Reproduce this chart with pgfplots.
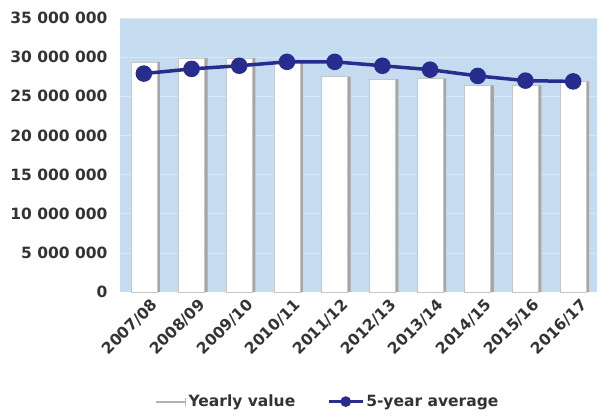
\documentclass[border=0pt]{standalone}
\usepackage{pgfplots}
\pgfplotsset{compat=1.18}
\usepackage{fontspec}
\setmainfont{DejaVu Sans}
\definecolor{bgblue}{HTML}{C5DCF0}
\definecolor{navy}{HTML}{282C8C}
\definecolor{txt}{HTML}{333333}
\begin{document}
\begin{tikzpicture}
\path (-120pt,-126pt) rectangle (495pt,292pt);
\begin{axis}[
  scale only axis,
  width=477pt, height=274pt,
  xmin=-0.5, xmax=9.5,
  ymin=0, ymax=35000000,
  ytick={0,5000000,...,35000000},
  scaled y ticks=false,
  /pgf/number format/.cd, fixed, 1000 sep={\ }, assume math mode=true,
  /pgfplots/.cd,
  xtick=data,
  xticklabels={2007/08,2008/09,2009/10,2010/11,2011/12,2012/13,2013/14,2014/15,2015/16,2016/17},
  x tick label style={rotate=45, anchor=north east, font=\bfseries\fontsize{15.5}{17}\selectfont, text=txt, xshift=4pt, yshift=-5pt},
  y tick label style={font=\bfseries\fontsize{15.5}{17}\selectfont, text=txt, xshift=-9pt},
  axis background/.style={fill=bgblue},
  axis line style={draw=none},
  major tick length=0pt,
  ymajorgrids,
  grid style={white, opacity=0.35, line width=0.5pt},
  legend style={at={(0.435,-0.40)}, anchor=center, draw=none, fill=none,
    legend columns=2, font=\bfseries\fontsize{15.5}{17}\selectfont, text=txt,
    /tikz/every even column/.append style={column sep=30pt}},
]
\addplot[ybar, bar width=26pt, bar shift=3pt, fill=gray!70, draw=none, forget plot]
  coordinates {(0,29400000) (1,29900000) (2,29900000) (3,29500000) (4,27500000)
               (5,27200000) (6,27300000) (7,26400000) (8,26400000) (9,26900000)};
\addplot[ybar, bar width=26pt, fill=white, draw=gray!45, line width=0.6pt,
  legend image code/.code={\draw[gray!60, line width=2pt] (0pt,0pt) -- (30pt,0pt);
    \draw[gray!60, line width=1pt] (30pt,-4pt) -- (30pt,4pt);}]
  coordinates {(0,29400000) (1,29900000) (2,29900000) (3,29500000) (4,27500000)
               (5,27200000) (6,27300000) (7,26400000) (8,26400000) (9,26900000)};
\addlegendentry{Yearly value}
\addplot[navy, line width=3.5pt, mark=*, mark size=6.5pt, mark options={fill=navy, draw=navy},
  legend image code/.code={\draw[navy, line width=3pt] (0pt,0pt) -- (34pt,0pt);
    \fill[navy] (17pt,0pt) circle (3.5pt);}]
  coordinates {(0,27900000) (1,28500000) (2,28900000) (3,29400000) (4,29400000)
               (5,28900000) (6,28400000) (7,27600000) (8,27000000) (9,26900000)};
\addlegendentry{5-year average}
\end{axis}
\end{tikzpicture}
\end{document}
